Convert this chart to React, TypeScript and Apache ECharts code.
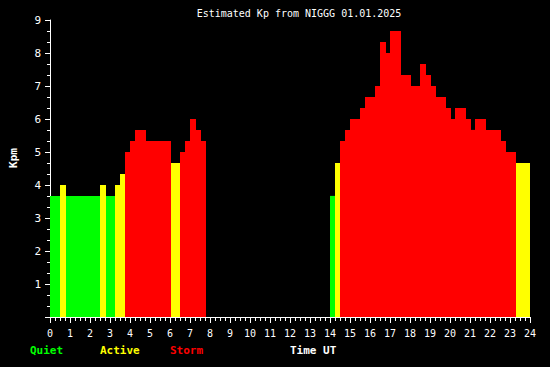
import React, { useEffect, useRef } from "react";
import * as echarts from "echarts";

const titleText = "Estimated Kp from NIGGG 01.01.2025";
const yAxisName = "Kpm";
const xAxisName = "Time UT";
const legendLabels = ["Quiet", "Active", "Storm"];
const legendColors = ["#00ff00", "#ffff00", "#ff0000"];

// segment start (h UT), end (h UT), Kp value
const segStart = [0, 0.5, 0.8, 2.5, 2.8, 3.25, 3.5, 3.75, 4.0, 4.25, 4.8, 6.05, 6.5, 6.75, 7.0, 7.3, 7.55,
  14.0, 14.25, 14.5, 14.75, 15.0, 15.5, 15.75, 16.25, 16.5, 16.8, 17.0, 17.55, 18.05, 18.5, 18.8, 19.05, 19.3,
  19.8, 20.05, 20.25, 20.8, 21.05, 21.25, 21.8, 22.55, 22.8, 23.3];
const segEnd = [0.5, 0.8, 2.5, 2.8, 3.25, 3.5, 3.75, 4.0, 4.25, 4.8, 6.05, 6.5, 6.75, 7.0, 7.3, 7.55, 7.8,
  14.25, 14.5, 14.75, 15.0, 15.5, 15.75, 16.25, 16.5, 16.8, 17.0, 17.55, 18.05, 18.5, 18.8, 19.05, 19.3, 19.8,
  20.05, 20.25, 20.8, 21.05, 21.25, 21.8, 22.55, 22.8, 23.3, 24.0];
const kpValues = [3.67, 4.0, 3.67, 4.0, 3.67, 4.0, 4.33, 5.0, 5.33, 5.67, 5.33, 4.67, 5.0, 5.33, 6.0, 5.67, 5.33,
  3.67, 4.67, 5.33, 5.67, 6.0, 6.33, 6.67, 7.0, 8.33, 8.0, 8.67, 7.33, 7.0, 7.67, 7.33, 7.0, 6.67,
  6.33, 6.0, 6.33, 6.0, 5.67, 6.0, 5.67, 5.33, 5.0, 4.67];

const FONT = "DejaVu Sans Mono";

function colorFor(v: number) {
  if (v < 4) return legendColors[0];
  if (v < 5) return legendColors[1];
  return legendColors[2];
}

export default function App() {
  const ref = useRef<HTMLDivElement>(null);
  useEffect(() => {
    if (!ref.current) return;
    const chart = echarts.init(ref.current, null, { renderer: "svg" });
    const data = segStart.map((s, i) => [s, segEnd[i], kpValues[i]]);
    chart.setOption({
      animation: false,
      backgroundColor: "#000000",
      grid: { left: 50, right: 20, top: 20, bottom: 50 },
      xAxis: {
        type: "value",
        min: 0,
        max: 24,
        interval: 1,
        splitLine: { show: false },
        axisLine: { show: true, onZero: false, lineStyle: { color: "#ffffff", width: 1 } },
        axisTick: { show: true, length: 6, lineStyle: { color: "#ffffff" } },
        minorTick: { show: true, splitNumber: 4, length: 4, lineStyle: { color: "#ffffff" } },
        axisLabel: { color: "#ffffff", fontFamily: FONT, fontSize: 10, margin: 11 },
      },
      yAxis: {
        type: "value",
        min: 0,
        max: 9,
        interval: 1,
        splitLine: { show: false },
        axisLine: { show: true, lineStyle: { color: "#ffffff", width: 1 } },
        axisTick: { show: true, length: 5, lineStyle: { color: "#ffffff" } },
        minorTick: { show: true, splitNumber: 3, length: 3, lineStyle: { color: "#ffffff" } },
        axisLabel: {
          color: "#ffffff",
          fontFamily: FONT,
          fontSize: 11,
          margin: 9,
          formatter: (v: number) => (v === 0 ? "" : String(v)),
        },
      },
      series: [
        {
          type: "custom",
          data,
          encode: { x: [0, 1], y: 2 },
          renderItem: (params: any, api: any) => {
            const s = api.coord([api.value(0), 0]);
            const e = api.coord([api.value(1), api.value(2)]);
            return {
              type: "rect",
              shape: { x: s[0], y: e[1], width: e[0] - s[0], height: s[1] - e[1] },
              style: { fill: colorFor(api.value(2)) },
            };
          },
        },
      ],
      graphic: [
        {
          type: "text",
          x: 299,
          y: 13,
          style: {
            text: titleText,
            fill: "#ffffff",
            font: `10px "${FONT}"`,
            textAlign: "center",
            textVerticalAlign: "middle",
          },
        },
        {
          type: "text",
          x: 13,
          y: 158,
          rotation: Math.PI / 2,
          style: {
            text: yAxisName,
            fill: "#ffffff",
            font: `bold 11px "${FONT}"`,
            textAlign: "center",
            textVerticalAlign: "middle",
          },
        },
        ...legendLabels.map((t, i) => ({
          type: "text",
          x: [30, 100, 170][i],
          y: 350,
          style: {
            text: t,
            fill: legendColors[i],
            font: `bold 11px "${FONT}"`,
            textAlign: "left",
            textVerticalAlign: "middle",
          },
        })),
        {
          type: "text",
          x: 290,
          y: 350,
          style: {
            text: xAxisName,
            fill: "#ffffff",
            font: `bold 11px "${FONT}"`,
            textAlign: "left",
            textVerticalAlign: "middle",
          },
        },
      ],
    });
    return () => chart.dispose();
  }, []);
  return <div ref={ref} style={{ width: 550, height: 367, position: "absolute", left: 0, top: 0 }} />;
}
